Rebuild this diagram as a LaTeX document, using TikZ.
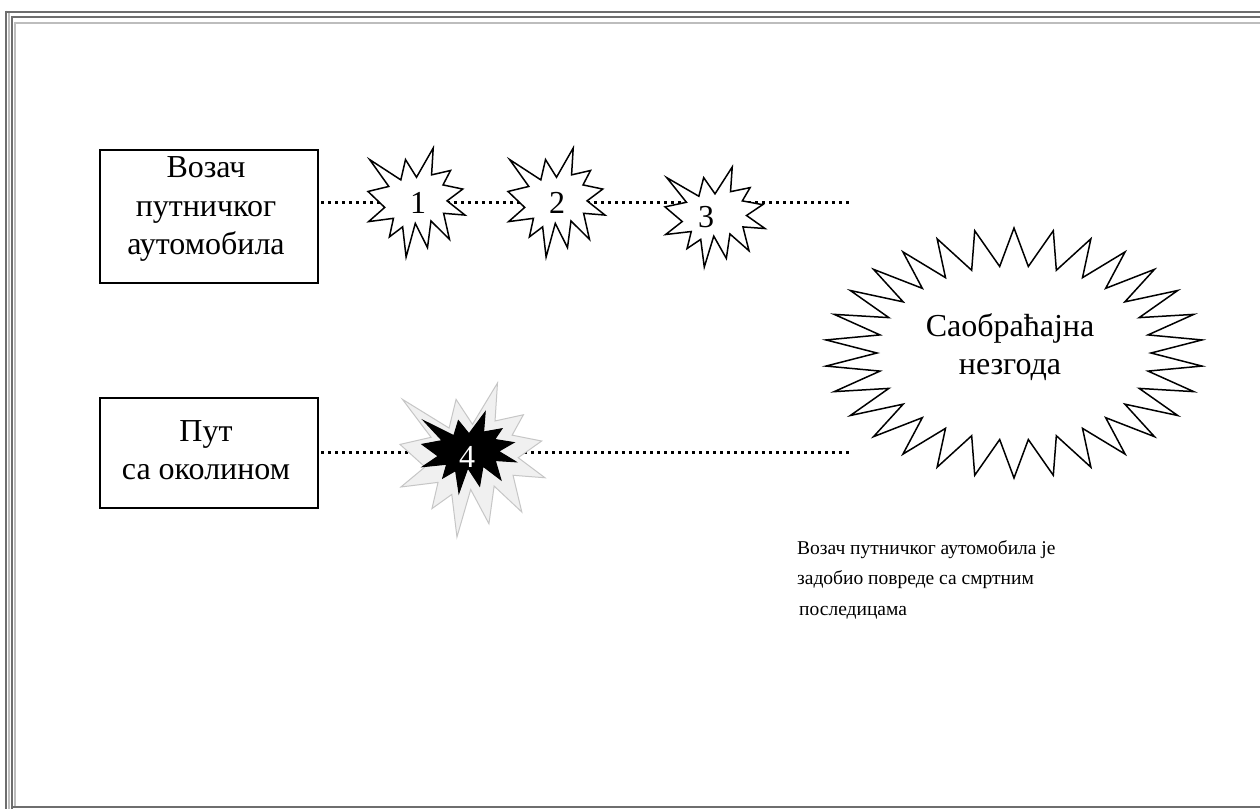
\documentclass[tikz,border=0pt]{standalone}
\usepackage{fontspec}
\setmainfont{Liberation Serif}
\definecolor{bdark}{HTML}{6E6E6E}
\definecolor{blight}{HTML}{BDBDBD}
\definecolor{shgray}{HTML}{F0F0F0}
\newcommand{\irrseal}[5]{%
 \begin{scope}[shift={({#1-#3/2},{#2-#4/2})}, x=#3pt, y=-#4pt]
 \draw[#5] (0.500,0.2685) -- (0.6723,0) -- (0.6553,0.2465) -- (0.8509,0.2063)
 -- (0.7732,0.3387) -- (0.9767,0.3767) -- (0.8151,0.4850) -- (1.0,0.6153)
 -- (0.7795,0.5992) -- (0.8400,0.8377) -- (0.6491,0.6693) -- (0.6133,0.9138)
 -- (0.4876,0.6914) -- (0.3928,1.0) -- (0.3572,0.7235) -- (0.2205,0.8156)
 -- (0.2624,0.6452) -- (0.0063,0.6753) -- (0.1723,0.5451) -- (0.0,0.3988)
 -- (0.2142,0.3526) -- (0.0171,0.1063) -- (0.3385,0.2926) -- (0.3867,0.1063) -- cycle;
 \end{scope}}
\tikzset{
 box/.style={draw, line width=1.5pt, minimum width=218pt, inner sep=0pt, outer sep=0pt},
 lbl/.style={font=\fontsize{32}{38.5}\selectfont, align=center, inner sep=0pt},
 dotline/.style={line width=3pt, line cap=butt, dash pattern=on 3pt off 4pt},
 sealst/.style={draw, fill=white, line width=1.5pt, line join=miter},
 note/.style={font=\fontsize{19.5}{30.5}\selectfont, align=left, inner sep=0pt, anchor=north west},
 frame/.style={line width=2pt}
}
\begin{document}
\begin{tikzpicture}[x=1pt,y=-1pt]
\useasboundingbox (0,0) rectangle (1260,809);
\fill[white] (0,0) rectangle (1260,809);
% frame
\draw[frame, bdark] (5,11.5) -- (1260,11.5);
\draw[frame, bdark] (11,17) -- (1260,17);
\draw[frame, blight] (14,22.5) -- (1260,22.5);
\draw[frame, bdark] (6,10.5) -- (6,809);
\draw[frame, blight] (9,13) -- (9,809);
\draw[frame, bdark] (11.5,16) -- (11.5,809);
\draw[frame, blight] (14.5,21.5) -- (14.5,806);
\draw[bdark, line width=2.5pt] (11,806.8) -- (1260,806.8);
% boxes
\node[box, minimum height=133pt] (b1) at (209,216.5) {};
\node[lbl] (t1) at (206,209) {Возач\\путничког\\аутомобила};
\node[box, minimum height=110pt] (b2) at (209,453) {};
\node[lbl] (t2) at (206,450) {Пут\\са околином};
% connectors
\coordinate (e1) at (850,202);
\coordinate (e2) at (850,452);
\draw[dotline] ([xshift=3pt]b1.east |- e1) -- (e1);
\draw[dotline] ([xshift=3pt]b2.east |- e2) -- (e2);
% explosions
\irrseal{416.5}{202.5}{97}{109}{sealst}
\irrseal{556.5}{202.5}{97}{109}{sealst}
\irrseal{715}{217}{100}{100}{sealst}
\irrseal{472.5}{460}{145}{154}{fill=shgray, draw=gray!45, line width=1pt}
\irrseal{469}{452.5}{94}{81}{fill=black, draw=black, line width=1pt}
\node[lbl] (s1) at (418,203) {1};
\node[lbl] (s2) at (557,203) {2};
\node[lbl] (s3) at (706,217) {3};
\node[lbl, text=white] (s4) at (467,457) {4};
% big seal
\draw[sealst] plot[samples at={0,...,59}, variable=\i]
  ({1014+(163+26*cos(180*\i))*cos(90+6*\i)}, {353-(106+19*cos(180*\i))*sin(90+6*\i)}) -- cycle;
\node[lbl] (acc) at (1010,347) {Саобраћајна\\незгода};
% note
\node[note] (txt) at (797,540) {Возач путничког аутомобила је\\задобио повреде са смртним\\\hspace*{2pt}последицама};
\end{tikzpicture}
\end{document}
